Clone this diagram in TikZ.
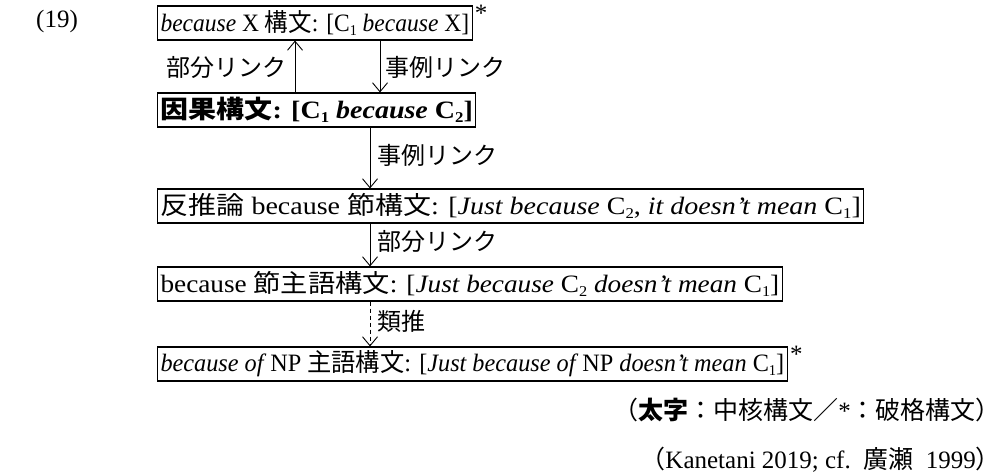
\documentclass[tikz,border=0pt]{standalone}
\usepackage{fontspec}
\setmainfont{Liberation Serif}
\newfontfamily\jp{Noto Sans CJK JP}
\usetikzlibrary{arrows.meta}
\newcommand\lsub[1]{\raisebox{-0.3ex}{\fontsize{15}{15}\selectfont #1}}
\tikzset{
  txt/.style={font=\fontsize{25}{29}\selectfont, inner sep=0pt},
  cbox/.style={txt, draw, line width=1.1pt, anchor=west, inner xsep=3pt, minimum height=34pt},
  lbl/.style={txt, font=\jp\fontsize{24}{28}\selectfont},
  star/.style={txt, anchor=north west, xshift=2pt, yshift=1pt},
  arr/.style={line width=0.9pt, -{Straight Barb[length=9pt,width=15pt,line width=0.9pt]}},
}
\begin{document}
\begin{tikzpicture}[x=1pt,y=1pt]
\useasboundingbox (0,0) rectangle (1003,-476);
\node[txt, anchor=west] (num) at (36,-21) {(19)};
\node[cbox] (b1) at (157,-23) {\scalebox{0.94}[1]{\textit{because} X {\jp 構文}: [C\lsub{1} \textit{because} X]}};
\node[star] (s1) at (b1.north east) {*};
\node[cbox] (b2) at (157,-110) {\scalebox{1.12}[1]{{\jp\bfseries 因果構文}\textbf{: [C\lsub{1} \textit{because} C\lsub{2}]}}};
\node[cbox] (b3) at (157,-206) {\scalebox{1.12}[1]{{\jp 反推論} because {\jp 節構文}: [\textit{Just because} C\lsub{2}, \textit{it doesn’t mean} C\lsub{1}]}};
\node[cbox] (b4) at (157,-284) {\scalebox{1.09}[1]{because {\jp 節主語構文}: [\textit{Just because} C\lsub{2} \textit{doesn’t mean} C\lsub{1}]}};
\node[cbox] (b5) at (157,-364) {\scalebox{0.97}[1]{\textit{because of}\,NP {\jp 主語構文}: [\textit{Just because of}\,NP \textit{doesn’t mean} C\lsub{1}]}};
\node[star] (s5) at (b5.north east) {*};
\coordinate (xu) at (295,0);
\coordinate (xd) at (380,0);
\coordinate (xm) at (370,0);
\draw[arr] (b2.north -| xu) -- (b1.south -| xu);
\draw[arr] (b1.south -| xd) -- (b2.north -| xd);
\draw[arr] (b2.south -| xm) -- (b3.north -| xm);
\draw[arr] (b3.south -| xm) -- (b4.north -| xm);
\draw[arr, dash pattern=on 4pt off 3pt] (b4.south -| xm) -- (b5.north -| xm);
\node[lbl, anchor=east] (l1) at (287,-67) {部分リンク};
\node[lbl, anchor=west] (l2) at (385,-67) {事例リンク};
\node[lbl, anchor=west] (l3) at (377,-155) {事例リンク};
\node[lbl, anchor=west] (l4) at (377,-241) {部分リンク};
\node[lbl, anchor=west] (l5) at (377,-321) {類推};
\node[txt, anchor=east] (g1) at (1001,-410) {{\jp （\textbf{太字}：中核構文／}*{\jp ：破格構文）}};
\node[txt, anchor=east] (g2) at (1001,-460) {{\jp （}Kanetani 2019; cf.\ \ {\jp 廣瀬}\ \ 1999{\jp ）}};
\end{tikzpicture}
\end{document}
